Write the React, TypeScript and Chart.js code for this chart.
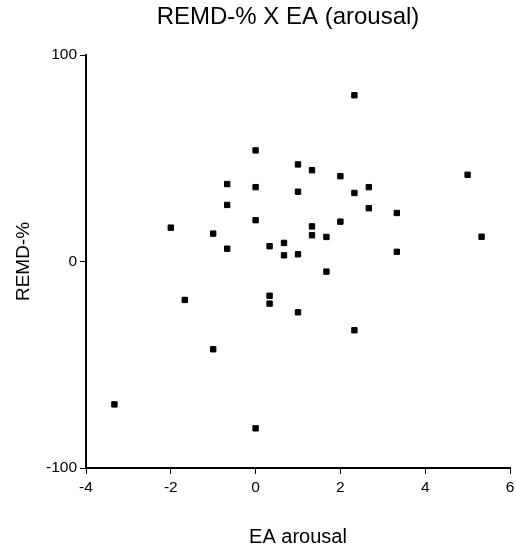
import React, { useEffect, useRef } from "react";
import { Chart, registerables } from "chart.js";

Chart.register(...registerables);

const chartTitle = "REMD-% X EA (arousal)";
const xAxisTitle = "EA arousal";
const yAxisTitle = "REMD-%";

const eaArousal = [
  2.33, 0, 1.0, 1.33, 2.0, 0, 1.0, 2.67, 2.33, 2.67, 3.33, 0, 2.0, 1.33, 1.33,
  1.67, 0.67, 0.33, 0.67, 1.0, 3.33, 1.67, 0.33, 0.33, 1.0, 2.33, -0.67, -0.67,
  -2.0, -1.0, -0.67, -1.67, -1.0, -3.33, 0, 5.0, 5.33,
];
const remdPct = [
  80.5, 53.8, 47, 44.2, 41.3, 36, 33.8, 36, 33.2, 25.8, 23.5, 20, 19.3, 17, 12.7,
  11.9, 9, 7.4, 3, 3.5, 4.7, -4.9, -16.6, -20.4, -24.6, -33.3, 37.5, 27.4, 16.4,
  13.5, 6.2, -18.6, -42.5, -69.2, -80.8, 42, 12,
];

const xMin = -4;
const xMax = 6;
const xStep = 2;
const yMin = -100;
const yMax = 100;
const yStep = 100;

const FONT = "'Liberation Sans', Arial, sans-serif";

export default function App() {
  const canvasRef = useRef<HTMLCanvasElement | null>(null);

  useEffect(() => {
    const canvas = canvasRef.current;
    if (!canvas) return;
    const points = eaArousal.map((x, i) => ({ x, y: remdPct[i] }));

    const titlePlugin = {
      id: "customTitle",
      afterDraw(chart: any) {
        const ctx = chart.ctx;
        ctx.save();
        ctx.fillStyle = "#000";
        ctx.font = `24px ${FONT}`;
        ctx.textAlign = "center";
        ctx.textBaseline = "middle";
        ctx.fillText(chartTitle, 288, 17);
        ctx.restore();
      },
    };

    const chart = new Chart(canvas, {
      type: "scatter",
      data: {
        datasets: [
          {
            data: points,
            pointStyle: "rect",
            pointRadius: 3.8,
            pointHoverRadius: 3.8,
            backgroundColor: "#000",
            borderColor: "#000",
            borderWidth: 1,
          },
        ],
      },
      options: {
        responsive: false,
        animation: false,
        events: [],
        layout: { padding: { top: 55, right: 6, bottom: 0, left: 0 } },
        plugins: {
          legend: { display: false },
          title: { display: false },
          tooltip: { enabled: false },
        },
        scales: {
          x: {
            type: "linear",
            min: xMin,
            max: xMax,
            afterFit(scale: any) {
              scale.height = 83;
              scale.paddingRight = 0;
              scale.paddingLeft = 0;
            },
            ticks: {
              stepSize: xStep,
              color: "#000",
              font: { family: FONT, size: 15.5 },
              padding: 4,
              maxRotation: 0,
            },
            grid: {
              display: true,
              drawOnChartArea: false,
              drawTicks: true,
              tickLength: 6,
              color: "#000",
              lineWidth: 1,
            },
            border: { display: true, color: "#000", width: 2 },
            title: {
              display: true,
              text: xAxisTitle,
              color: "#000",
              font: { family: FONT, size: 20 },
              padding: { top: 0, bottom: 2 },
            },
          },
          y: {
            type: "linear",
            min: yMin,
            max: yMax,
            afterFit(scale: any) {
              scale.width = 86;
            },
            ticks: {
              stepSize: yStep,
              color: "#000",
              font: { family: FONT, size: 15.5 },
              padding: 3,
            },
            grid: {
              display: true,
              drawOnChartArea: false,
              drawTicks: true,
              tickLength: 6,
              color: "#000",
              lineWidth: 1,
            },
            border: { display: true, color: "#000", width: 2 },
            title: {
              display: true,
              text: yAxisTitle,
              color: "#000",
              font: { family: FONT, size: 19 },
              padding: { top: 12, bottom: 0 },
            },
          },
        },
      },
      plugins: [titlePlugin],
    });

    return () => chart.destroy();
  }, []);

  return (
    <div
      style={{
        position: "absolute",
        left: 0,
        top: 0,
        width: 516,
        height: 551,
        background: "#fff",
      }}
    >
      <canvas ref={canvasRef} width={516} height={551} />
    </div>
  );
}
